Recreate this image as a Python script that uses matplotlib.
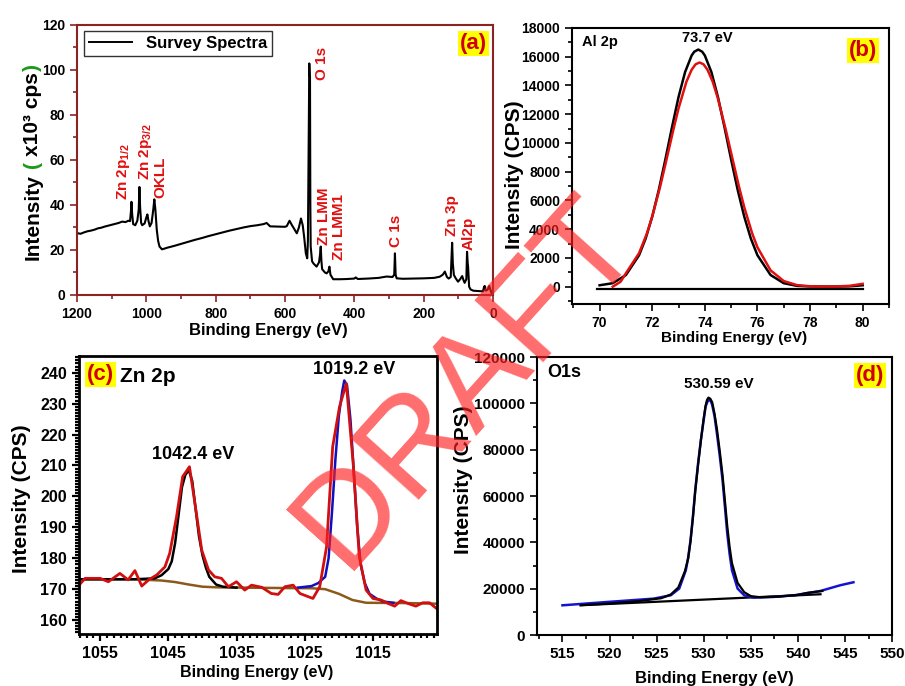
"""
XPS spectra: survey, Al 2p, Zn 2p and O 1s.
"""
from matplotlib import pyplot as plt
from matplotlib.ticker import MultipleLocator
from matplotlib.lines import Line2D

plt.rcParams['font.family'] = ['Liberation Sans', 'DejaVu Sans']
plt.rcParams['font.weight'] = 'bold'
plt.rcParams['mathtext.fontset'] = 'custom'
plt.rcParams['mathtext.bf'] = 'Liberation Sans:bold'
plt.rcParams['mathtext.rm'] = 'Liberation Sans:bold'
plt.rcParams['mathtext.default'] = 'bf'

# (a) survey spectrum, intensity in 10^3 cps
survey_be = [1200, 1190, 1180, 1170, 1160, 1150, 1140, 1130, 1120, 1110, 1100, 1090, 1080,
             1070, 1060, 1052, 1047, 1044, 1043, 1041, 1038, 1032, 1026, 1022, 1020, 1018,
             1015, 1012, 1005, 1000, 997, 994, 990, 985, 980, 977, 974, 970, 966, 962, 955,
             950, 940, 920, 900, 880, 860, 840, 820, 800, 780, 760, 740, 720, 700, 680, 662,
             653, 643, 620, 600, 595, 587, 580, 576, 566, 560, 554, 549, 545, 540, 536, 534,
             533, 531, 530, 529, 528, 527, 526, 522, 518, 509, 502, 499, 497, 495, 493, 485,
             480, 475, 472, 469, 465, 461, 440, 420, 400, 396, 390, 360, 330, 307, 290, 285,
             283, 281, 278, 260, 230, 200, 170, 154, 145, 139, 133, 128, 122, 119, 118, 116,
             113, 108, 101, 95, 89, 85, 82, 77, 75, 73, 72, 70, 69, 65, 57, 40, 29, 26, 24,
             22, 19, 15, 11, 8, 4, 0]
survey_int = [27.5, 27.2, 27.8, 28.3, 28.6, 29.0, 29.6, 29.9, 30.4, 30.8, 31.2, 31.6, 32.0,
              32.6, 32.4, 33.0, 32.8, 38.0, 41.4, 36.0, 31.5, 31.0, 33.0, 38.0, 48.0, 39.0,
              32.0, 31.0, 31.8, 34.5, 35.8, 33.0, 30.5, 32.0, 38.0, 42.5, 38.0, 29.0, 24.0,
              21.5, 20.3, 20.5, 21.0, 21.8, 22.7, 23.6, 24.5, 25.3, 26.2, 27.0, 27.8, 28.6,
              29.3, 30.0, 30.6, 31.0, 31.5, 32.0, 30.5, 30.4, 30.3, 30.6, 33.0, 31.0, 30.0,
              27.4, 30.0, 34.0, 31.0, 26.0, 18.5, 16.3, 24.0, 44.4, 80.0, 102.9, 98.0, 97.0,
              40.0, 21.5, 15.0, 14.0, 12.6, 14.5, 18.0, 21.5, 15.0, 11.5, 10.0, 9.6, 10.5,
              12.6, 9.0, 8.0, 7.0, 7.0, 7.1, 7.3, 7.8, 7.1, 7.3, 7.6, 8.2, 8.0, 9.0, 18.5,
              9.0, 7.4, 7.2, 7.3, 7.4, 7.6, 8.1, 9.0, 10.4, 8.0, 7.3, 8.0, 20.0, 23.2, 14.0,
              8.9, 7.5, 5.9, 7.0, 8.4, 6.5, 5.4, 7.0, 19.2, 14.0, 12.6, 6.0, 3.7, 2.5, 1.9,
              1.7, 1.6, 3.5, 4.0, 2.0, 2.0, 2.5, 4.0, 2.5, 0.7, 0.5]
peak_labels = [r'Zn 2p$_{1/2}$', r'Zn 2p$_{3/2}$', 'OKLL', 'O 1s', 'Zn LMM', 'Zn LMM1',
               'C 1s', 'Zn 3p', 'Al2p']
peak_label_be = [1066, 1003, 960, 494, 489, 443, 280, 117, 69]
peak_label_int = [42, 51, 43, 95.5, 22, 15.5, 21.5, 26, 20]

# (b) Al 2p
al_be = [70, 70.5, 71, 71.5, 71.75, 72, 72.25, 72.5, 72.75, 73, 73.25, 73.5, 73.6, 73.75,
         73.9, 74, 74.25, 74.5, 74.75, 75, 75.25, 75.5, 75.75, 76, 76.5, 77, 77.5, 78, 78.5,
         79, 79.5, 80]
al_raw = [100, 245, 813, 2190, 3350, 4870, 6730, 8850, 11075, 13190, 14935, 16090, 16350,
          16500, 16350, 16090, 14935, 13190, 11075, 8850, 6730, 4870, 3350, 2190, 813, 245,
          61, 20, 10, 10, 30, 100]
al_fit_be = [70.5, 70.8, 71, 71.5, 71.8, 72, 72.3, 72.5, 72.8, 73, 73.3, 73.5, 73.65, 73.8,
             73.95, 74.1, 74.3, 74.5, 74.8, 75, 75.3, 75.5, 75.8, 76, 76.5, 77, 77.5, 78,
             78.5, 79, 79.5, 80]
al_fit = [0, 350, 934, 2334, 3710, 4875, 6950, 8503, 10890, 12400, 14260, 15100, 15475,
          15600, 15475, 15100, 14260, 13080, 10890, 9300, 6950, 5525, 3710, 2745, 1138, 395,
          114, 30, 10, 20, 60, 200]
al_base_be = [69.9, 80]
al_base = [-150, -150]

# (c) Zn 2p
zn_be = [1058.1, 1057.2, 1055, 1053.8, 1052.1, 1050.9, 1049.9, 1048.9, 1047.9, 1046.7,
         1045.5, 1044.8, 1043.8, 1042.9, 1041.9, 1041.1, 1040.1, 1039.1, 1038.2, 1037.2,
         1036.2, 1035, 1033.8, 1032.8, 1031.3, 1029.9, 1028.9, 1027.9, 1026.7, 1025.7,
         1023.8, 1022.8, 1021.8, 1020.9, 1019.9, 1018.9, 1017.9, 1017, 1016, 1015, 1013.8,
         1012.8, 1011.8, 1010.9, 1009.9, 1008.7, 1007.7, 1006.7, 1005.7]
zn_raw = [171.3, 173.5, 173.5, 172.4, 175.1, 173.0, 176.0, 171.0, 173.0, 174.6, 177.2,
          181.6, 193.4, 206.4, 209.6, 197.7, 182.6, 176.2, 174.0, 173.5, 170.8, 172.4, 169.7,
          171.3, 170.6, 168.6, 168.3, 170.8, 171.3, 168.6, 167.0, 170.8, 183.7, 216.1, 229.0,
          236.5, 210.7, 180.5, 169.7, 167.0, 166.5, 165.4, 164.5, 166.3, 165.4, 164.5, 165.6,
          165.6, 163.8]
zn_bg_be = [1058.1, 1050, 1046, 1044, 1042, 1040, 1038, 1030, 1024, 1022, 1020, 1018, 1016,
            1010, 1005.6]
zn_bg = [173.2, 173.2, 172.8, 172.3, 171.5, 170.8, 170.6, 170.4, 170.3, 170.0, 168.5, 166.5,
         165.6, 165.5, 165.3]
zn_fit1_be = [1058.1, 1050, 1047, 1046, 1045, 1044.5, 1044, 1043.5, 1043, 1042.5, 1042,
              1041.5, 1041, 1040.5, 1040, 1039.5, 1039, 1038, 1037, 1035]
zn_fit1 = [173.2, 173.2, 173.5, 174.5, 176.5, 179.0, 185.0, 194.0, 203.0, 207.0, 208.5,
           205.0, 196.0, 187.0, 181.0, 177.0, 174.0, 171.5, 170.8, 170.5]
zn_fit2_be = [1026, 1024, 1023, 1022, 1021.5, 1021, 1020.5, 1020, 1019.5, 1019.2, 1018.8,
              1018.3, 1017.8, 1017.3, 1016.8, 1016.2, 1015.5, 1014.5, 1013.5, 1012]
zn_fit2 = [170.5, 171.0, 172.0, 174.0, 180.0, 195.0, 212.0, 226.0, 234.0, 237.5, 236.0,
           225.0, 208.0, 190.0, 178.0, 172.0, 168.5, 167.0, 166.0, 165.6]

# (d) O 1s
o_be = [517, 520, 523, 525.5, 526.5, 527.3, 528, 528.35, 528.6, 528.85, 529.1, 529.4,
        529.7, 530.0, 530.2, 530.35, 530.5, 530.7, 530.9, 531.15, 531.4, 531.7, 532,
        532.25, 532.5, 532.75, 533, 533.6, 534.3, 535, 536, 538, 540, 541, 542, 542.6]
o_raw = [12900, 13600, 14600, 15900, 17500, 20500, 27500, 33000, 40500, 50500, 62000,
         73500, 84000, 93500, 99000, 101500, 102500, 102000, 100500, 95500, 89000, 79500,
         69000, 58000, 47000, 38000, 31000, 22500, 18500, 16800, 16300, 16600, 17300, 18200,
         18700, 19000]
o_fit_be = [515, 519.8, 524.7, 526.5, 527.4, 528.1, 528.35, 528.6, 528.85, 529.1, 529.4,
            529.7, 530.0, 530.2, 530.4, 530.6, 530.75, 530.9, 531.15, 531.4, 531.7, 532.0,
            532.25, 532.5, 532.75, 533.0, 533.6, 534.3, 535.3, 537.4, 539.6, 542.4, 544.5,
            545.9]
o_fit = [12830, 14280, 15720, 17160, 20040, 27970, 33500, 40950, 51000, 62580, 74000, 84210,
         93000, 98630, 100800, 101500, 101000, 99350, 94500, 87100, 77500, 66900, 55500,
         43840, 35000, 27970, 20040, 17160, 16150, 16440, 17160, 19030, 21490, 22780]
o_base_be = [516.9, 542.4]
o_base = [12850, 17600]

fig = plt.figure(figsize=(9.05, 6.86), dpi=100)
ax_a = fig.add_axes([0.0851, 0.5700, 0.4597, 0.3936])
ax_b = fig.add_axes([0.6320, 0.5569, 0.3503, 0.4023])
ax_c = fig.add_axes([0.0873, 0.0758, 0.3956, 0.4052])
ax_d = fig.add_axes([0.5934, 0.0743, 0.3923, 0.4052])


def style_axes(ax, color, lw, size):
    for s in ax.spines.values():
        s.set_color(color)
        s.set_linewidth(lw)
    ax.tick_params(which='both', direction='out', color=color, width=lw * 0.8,
                   labelsize=size, top=False, right=False)
    ax.tick_params(which='major', length=5)
    ax.tick_params(which='minor', length=3)


def tag(ax, x, y, label):
    ax.text(x, y, label, transform=ax.transAxes, ha='center', va='center', fontsize=16,
            color='#D00000', bbox=dict(facecolor='#FFFF00', edgecolor='none', pad=1.5))


# ---- (a)
dark_red = '#8B2323'
ax_a.plot(survey_be, survey_int, color='black', lw=1.5)
ax_a.set_xlim(1200, 0)
ax_a.set_ylim(0, 120)
ax_a.xaxis.set_major_locator(MultipleLocator(200))
ax_a.xaxis.set_minor_locator(MultipleLocator(100))
ax_a.yaxis.set_major_locator(MultipleLocator(20))
ax_a.yaxis.set_minor_locator(MultipleLocator(10))
style_axes(ax_a, dark_red, 1.5, 10)
for lab, x, y in zip(peak_labels, peak_label_be, peak_label_int):
    ax_a.text(x, y, lab, rotation=90, ha='center', va='bottom', color='#E01010', fontsize=11)
leg = ax_a.legend(handles=[Line2D([], [], color='black', lw=1.4)], labels=['Survey Spectra'],
                  loc='upper left', bbox_to_anchor=(0.017, 0.978), borderaxespad=0,
                  fancybox=False, edgecolor='#333333', fontsize=12, handlelength=2.6,
                  borderpad=0.3, framealpha=1)
leg.get_frame().set_linewidth(1.0)
tag(ax_a, 0.952, 0.93, '(a)')
t1 = ax_a.text(-0.106, 0.13, 'Intensity', rotation=90, ha='center', va='bottom', fontsize=15,
               transform=ax_a.transAxes)
t2 = ax_a.annotate('(', xy=(0.5, 1), xycoords=t1, xytext=(0, 4), textcoords='offset points',
                   rotation=90, ha='center', va='bottom', fontsize=15, color='#1A9A1A')
t3 = ax_a.annotate('x10\u00b3 cps', xy=(0.5, 1), xycoords=t2, xytext=(0, 4),
                   textcoords='offset points', rotation=90, ha='center', va='bottom',
                   fontsize=15)
ax_a.annotate(')', xy=(0.5, 1), xycoords=t3, xytext=(0, 1), textcoords='offset points',
              rotation=90, ha='center', va='bottom', fontsize=15, color='#1A9A1A')
ax_a.text(0.459, -0.13, 'Binding Energy (eV)', transform=ax_a.transAxes, ha='center',
          va='center', fontsize=12)

# ---- (b)
ax_b.plot(al_base_be, al_base, color='black', lw=1.6)
ax_b.plot(al_be, al_raw, color='black', lw=1.8)
ax_b.plot(al_fit_be, al_fit, color='#E01010', lw=1.8)
ax_b.set_xlim(68.95, 81)
ax_b.set_ylim(-1200, 18000)
ax_b.xaxis.set_major_locator(MultipleLocator(2))
ax_b.xaxis.set_minor_locator(MultipleLocator(1))
ax_b.yaxis.set_major_locator(MultipleLocator(2000))
ax_b.yaxis.set_minor_locator(MultipleLocator(1000))
style_axes(ax_b, 'black', 1.5, 10)
ax_b.text(0.032, 0.949, 'Al 2p', transform=ax_b.transAxes, ha='left', va='center',
          fontsize=10.5)
ax_b.text(74.1, 17280, '73.7 eV', ha='center', va='center', fontsize=10.5)
tag(ax_b, 0.918, 0.92, '(b)')
ax_b.text(-0.18, 0.47, 'Intensity (CPS)', transform=ax_b.transAxes, rotation=90,
          ha='center', va='center', fontsize=15)
ax_b.text(0.511, -0.123, 'Binding Energy (eV)', transform=ax_b.transAxes, ha='center',
          va='center', fontsize=11)

# ---- (c)
ax_c.plot(zn_bg_be, zn_bg, color='#8B5A1A', lw=1.8)
ax_c.plot(zn_fit1_be, zn_fit1, color='black', lw=1.8)
ax_c.plot(zn_fit2_be, zn_fit2, color='#1010C0', lw=1.8)
ax_c.plot(zn_be, zn_raw, color='#D01010', lw=2.0)
ax_c.set_xlim(1058.1, 1005.6)
ax_c.set_ylim(155.5, 245.4)
ax_c.xaxis.set_major_locator(MultipleLocator(10))
ax_c.xaxis.set_minor_locator(MultipleLocator(1))
ax_c.yaxis.set_major_locator(MultipleLocator(10))
ax_c.yaxis.set_minor_locator(MultipleLocator(1))
style_axes(ax_c, 'black', 2.0, 11.5)
ax_c.set_xticks([1055, 1045, 1035, 1025, 1015])
tag(ax_c, 0.059, 0.932, '(c)')
ax_c.text(0.115, 0.925, 'Zn 2p', transform=ax_c.transAxes, ha='left', va='center',
          fontsize=15)
ax_c.text(1041.3, 213.4, '1042.4 eV', ha='center', va='center', fontsize=13)
ax_c.text(1017.8, 241.0, '1019.2 eV', ha='center', va='center', fontsize=13)
ax_c.text(-0.162, 0.486, 'Intensity (CPS)', transform=ax_c.transAxes, rotation=90,
          ha='center', va='center', fontsize=15)
ax_c.text(0.497, -0.137, 'Binding Energy (eV)', transform=ax_c.transAxes, ha='center',
          va='center', fontsize=11.5)

# ---- (d)
ax_d.plot(o_base_be, o_base, color='black', lw=1.6)
ax_d.plot(o_fit_be, o_fit, color='#1414D0', lw=1.8)
ax_d.plot(o_be, o_raw, color='black', lw=1.6)
ax_d.set_xlim(512.3, 550)
ax_d.set_ylim(0, 120000)
ax_d.xaxis.set_major_locator(MultipleLocator(5))
ax_d.xaxis.set_minor_locator(MultipleLocator(2.5))
ax_d.yaxis.set_major_locator(MultipleLocator(20000))
ax_d.yaxis.set_minor_locator(MultipleLocator(10000))
style_axes(ax_d, 'black', 1.5, 11)
ax_d.text(0.028, 0.946, 'O1s', transform=ax_d.transAxes, ha='left', va='center',
          fontsize=13)
ax_d.text(531.6, 108400, '530.59 eV', ha='center', va='center', fontsize=11)
tag(ax_d, 0.938, 0.935, '(d)')
ax_d.text(-0.206, 0.558, 'Intensity (CPS)', transform=ax_d.transAxes, rotation=90,
          ha='center', va='center', fontsize=15)
ax_d.text(0.499, -0.155, 'Binding Energy (eV)', transform=ax_d.transAxes, ha='center',
          va='center', fontsize=12)

# watermark
fig.text(0.516, 0.442, 'DRAFT', rotation=48, ha='center', va='center', fontsize=96,
         fontweight='normal', color='#FF2020', alpha=0.65, zorder=20)

plt.savefig('out.png', dpi=100)
